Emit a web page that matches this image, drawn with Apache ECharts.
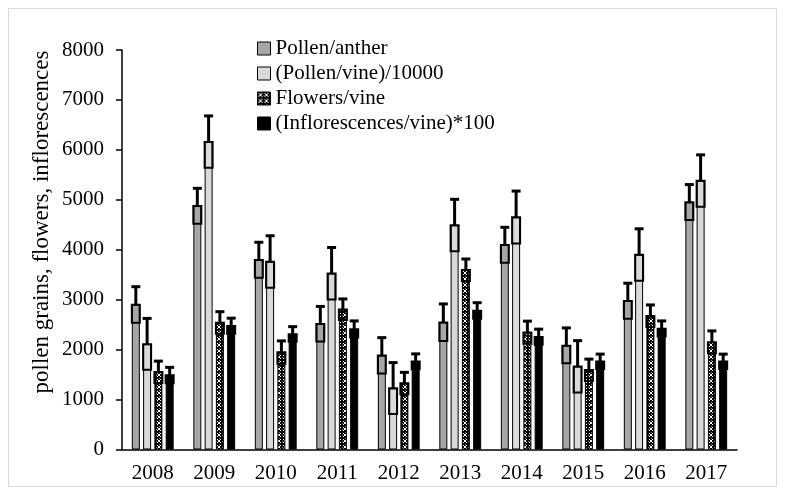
<!DOCTYPE html>
<html>
<head>
<meta charset="utf-8">
<script src="https://cdn.jsdelivr.net/npm/echarts@6/dist/echarts.min.js"></script>
<style>
html,body{margin:0;padding:0;background:#fff;}
#chart{width:785px;height:495px;}
</style>
</head>
<body>
<div id="chart"></div>
<script>
const years = ['2008','2009','2010','2011','2012','2013','2014','2015','2016','2017'];
const pollenAnther = [2900, 4875, 3795, 2515, 1880, 2545, 4095, 2080, 2975, 4950];
const pollenAntherErr = [360, 355, 355, 350, 360, 370, 355, 355, 355, 355];
const pollenVine = [2110, 6160, 3760, 3525, 1225, 4490, 4650, 1660, 3900, 5380];
const pollenVineErr = [515, 520, 520, 520, 515, 520, 525, 520, 520, 520];
const flowersVine = [1550, 2540, 1945, 2805, 1325, 3595, 2345, 1590, 2675, 2150];
const flowersVineErr = [220, 220, 230, 210, 220, 220, 225, 220, 220, 225];
const inflVine = [1485, 2475, 2310, 2410, 1760, 2780, 2255, 1760, 2420, 1760];
const inflVineErr = [160, 155, 150, 165, 155, 160, 155, 150, 155, 150];
const yTicks = [0,1000,2000,3000,4000,5000,6000,7000,8000];
const seriesNames = ['Pollen/anther','(Pollen/vine)/10000','Flowers/vine','(Inflorescences/vine)*100'];

const FONT = 'Liberation Serif';

// pattern for Flowers/vine
const pc = document.createElement('canvas');
pc.width = 6; pc.height = 6;
const pctx = pc.getContext('2d');
pctx.fillStyle = '#000'; pctx.fillRect(0,0,6,6);
pctx.fillStyle = '#fff';
pctx.fillRect(1,1,1,1); pctx.fillRect(4,1,1,1);
pctx.fillRect(2,2,2,2);
pctx.fillRect(1,4,1,1); pctx.fillRect(4,4,1,1);
pctx.fillStyle = '#888';
pctx.fillRect(0,3,1,1); pctx.fillRect(3,0,1,1);
const patternFill = {image: pc, repeat: 'repeat'};

const fills = ['#a6a6a6', '#d9d9d9', patternFill, '#000000'];
const values = [pollenAnther, pollenVine, flowersVine, inflVine];
const errs = [pollenAntherErr, pollenVineErr, flowersVineErr, inflVineErr];

const BAR_W = 8;
const BAR_GAP = 0.41;
const STEP = BAR_W * (1 + BAR_GAP);

const series = [];
values.forEach((vals, i) => {
  series.push({
    name: seriesNames[i],
    type: 'bar',
    barWidth: BAR_W,
    barGap: (BAR_GAP*100) + '%',
    data: vals,
    itemStyle: {color: fills[i], borderColor: '#000', borderWidth: 1},
    emphasis: {disabled: true},
    z: 2
  });
});
values.forEach((vals, i) => {
  const offset = (i - 1.5) * STEP;
  series.push({
    type: 'custom',
    name: 'err' + i,
    data: vals.map((v, k) => [k, v, errs[i][k]]),
    z: 5,
    silent: true,
    renderItem: function(params, api) {
      const ci = api.value(0), v = api.value(1), e = api.value(2);
      const c = api.coord([ci, v]);
      const hi = api.coord([ci, v + e]);
      const lo = api.coord([ci, v - e]);
      const x = c[0] + offset;
      return {
        type: 'group',
        children: [
          {type: 'rect', shape: {x: x - BAR_W/2, y: c[1], width: BAR_W, height: lo[1] - c[1]},
           style: {fill: 'none', stroke: '#000', lineWidth: 2}},
          {type: 'line', shape: {x1: x, y1: c[1], x2: x, y2: hi[1]},
           style: {stroke: '#000', lineWidth: 3}},
          {type: 'line', shape: {x1: x - 4.5, y1: hi[1], x2: x + 4.5, y2: hi[1]},
           style: {stroke: '#000', lineWidth: 3}}
        ]
      };
    }
  });
});

const chart = echarts.init(document.getElementById('chart'), null, {renderer: 'canvas'});
chart.setOption({
  animation: false,
  backgroundColor: '#fff',
  textStyle: {fontFamily: FONT, color: '#000'},
  grid: {left: 122, right: 48, top: 50, bottom: 45.5, containLabel: false},
  legend: {
    data: seriesNames,
    orient: 'vertical',
    left: 257,
    top: 38,
    padding: 0,
    itemWidth: 13,
    itemHeight: 13,
    itemGap: 4,
    icon: 'rect',
    textStyle: {fontFamily: FONT, fontSize: 21, color: '#000'},
    itemStyle: {borderColor: '#000', borderWidth: 1}
  },
  xAxis: {
    type: 'category',
    data: years,
    axisLine: {lineStyle: {color: '#000', width: 1.5}},
    axisTick: {show: false},
    axisLabel: {fontFamily: FONT, fontSize: 21, color: '#000', margin: 13}
  },
  yAxis: {
    type: 'value',
    min: yTicks[0],
    max: yTicks[yTicks.length - 1],
    interval: yTicks[1] - yTicks[0],
    axisLine: {show: true, lineStyle: {color: '#000', width: 1.5}},
    axisTick: {show: true, length: 6, lineStyle: {color: '#000', width: 1.5}},
    splitLine: {show: false},
    axisLabel: {fontFamily: FONT, fontSize: 21, color: '#000', margin: 18,
                formatter: function (v) { return String(v); }}
  },
  graphic: [
    {type: 'rect', shape: {x: 8.5, y: 8.5, width: 768, height: 478},
     style: {fill: 'none', stroke: '#d9d9d9', lineWidth: 1}, z: -1, silent: true},
    {type: 'text', x: 42, y: 222, rotation: Math.PI / 2,
     style: {text: 'pollen grains, flowers, inflorescences', fontFamily: FONT, fontSize: 23,
             fill: '#000', align: 'center', verticalAlign: 'middle'}}
  ],
  series: series
});
</script>
</body>
</html>
